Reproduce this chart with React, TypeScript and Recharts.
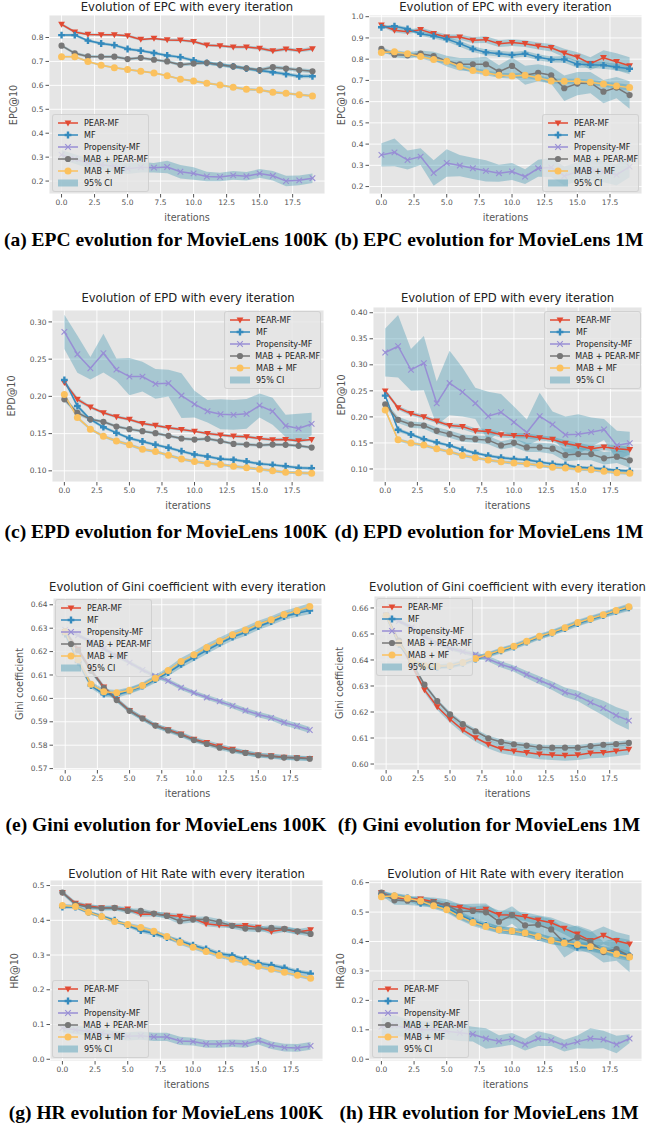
import React from "react";
import { Area, CartesianGrid, ComposedChart, Line, XAxis, YAxis } from "recharts";

const FONT = "'DejaVu Sans', sans-serif";
const CAPTION_FONT = "'Liberation Serif', serif";

const ITERATIONS = [0, 1, 2, 3, 4, 5, 6, 7, 8, 9, 10, 11, 12, 13, 14, 15, 16, 17, 18, 19];
const X_TICKS = [0, 2.5, 5, 7.5, 10, 12.5, 15, 17.5];

const SERIES_NAMES = ["PEAR-MF", "MF", "Propensity-MF", "MAB + PEAR-MF", "MAB + MF"];
const SERIES_COLORS = ["#E24A33", "#348ABD", "#988ED5", "#777777", "#FBC15E"];
const SERIES_MARKERS = ["tri", "plus", "x", "circle", "bigCircle"];
const CI_FILL = "#4a9bb5";

// (a) EPC, MovieLens 100K
const epc100kPear = [0.855, 0.823, 0.813, 0.811, 0.811, 0.807, 0.792, 0.796, 0.790, 0.789, 0.783, 0.768, 0.765, 0.760, 0.760, 0.755, 0.744, 0.752, 0.745, 0.753];
const epc100kMf = [0.810, 0.810, 0.787, 0.775, 0.768, 0.752, 0.745, 0.735, 0.725, 0.718, 0.704, 0.694, 0.686, 0.679, 0.670, 0.662, 0.655, 0.647, 0.638, 0.638];
const epc100kProp = [0.310, 0.292, 0.275, 0.268, 0.262, 0.252, 0.258, 0.256, 0.259, 0.239, 0.232, 0.219, 0.217, 0.224, 0.220, 0.232, 0.222, 0.200, 0.203, 0.212];
const epc100kMabPear = [0.766, 0.734, 0.721, 0.720, 0.720, 0.710, 0.715, 0.707, 0.700, 0.686, 0.691, 0.694, 0.686, 0.679, 0.671, 0.664, 0.676, 0.670, 0.664, 0.659];
const epc100kMabMf = [0.720, 0.720, 0.700, 0.684, 0.674, 0.666, 0.659, 0.652, 0.640, 0.626, 0.618, 0.609, 0.601, 0.592, 0.584, 0.581, 0.571, 0.567, 0.561, 0.556];
const epc100kPearCi = [0.006, 0.006, 0.005, 0.005, 0.005, 0.006, 0.006, 0.005, 0.006, 0.006, 0.006, 0.006, 0.006, 0.006, 0.006, 0.007, 0.007, 0.007, 0.007, 0.008];
const epc100kMfCi = [0.005, 0.006, 0.006, 0.006, 0.006, 0.006, 0.006, 0.006, 0.006, 0.006, 0.007, 0.007, 0.007, 0.007, 0.007, 0.007, 0.007, 0.008, 0.008, 0.008];
const epc100kPropCi = [0.020, 0.020, 0.020, 0.020, 0.022, 0.022, 0.022, 0.020, 0.026, 0.028, 0.026, 0.020, 0.018, 0.018, 0.018, 0.018, 0.020, 0.022, 0.020, 0.020];
const epc100kMabPearCi = [0.006, 0.006, 0.006, 0.006, 0.006, 0.006, 0.006, 0.006, 0.006, 0.007, 0.007, 0.007, 0.007, 0.007, 0.007, 0.007, 0.008, 0.008, 0.008, 0.008];
const epc100kMabMfCi = [0.004, 0.004, 0.004, 0.004, 0.004, 0.004, 0.004, 0.004, 0.004, 0.004, 0.005, 0.005, 0.005, 0.005, 0.005, 0.005, 0.005, 0.005, 0.005, 0.005];

// (b) EPC, MovieLens 1M
const epc1mPear = [0.961, 0.936, 0.929, 0.939, 0.920, 0.904, 0.904, 0.889, 0.892, 0.873, 0.878, 0.873, 0.862, 0.854, 0.829, 0.810, 0.779, 0.807, 0.788, 0.769];
const epc1mMf = [0.950, 0.955, 0.942, 0.920, 0.909, 0.895, 0.873, 0.848, 0.832, 0.826, 0.820, 0.826, 0.809, 0.798, 0.799, 0.776, 0.774, 0.771, 0.763, 0.755];
const epc1mProp = [0.349, 0.361, 0.325, 0.341, 0.264, 0.311, 0.299, 0.286, 0.274, 0.263, 0.271, 0.247, 0.286, 0.290, 0.250, 0.270, 0.280, 0.270, 0.255, 0.294];
const epc1mMabPear = [0.848, 0.821, 0.818, 0.826, 0.815, 0.791, 0.776, 0.776, 0.776, 0.741, 0.768, 0.724, 0.736, 0.724, 0.663, 0.685, 0.689, 0.647, 0.666, 0.631];
const epc1mMabMf = [0.831, 0.835, 0.826, 0.813, 0.798, 0.790, 0.766, 0.747, 0.736, 0.724, 0.721, 0.724, 0.713, 0.697, 0.696, 0.696, 0.691, 0.683, 0.674, 0.666];
const epc1mPearCi = [0.008, 0.010, 0.010, 0.010, 0.012, 0.012, 0.012, 0.014, 0.016, 0.016, 0.016, 0.016, 0.016, 0.018, 0.020, 0.022, 0.030, 0.035, 0.040, 0.040];
const epc1mMfCi = [0.006, 0.008, 0.008, 0.010, 0.012, 0.012, 0.014, 0.014, 0.014, 0.014, 0.014, 0.014, 0.014, 0.014, 0.016, 0.016, 0.016, 0.016, 0.016, 0.018];
const epc1mPropCi = [0.055, 0.065, 0.045, 0.040, 0.060, 0.065, 0.050, 0.050, 0.050, 0.040, 0.040, 0.035, 0.040, 0.045, 0.045, 0.045, 0.050, 0.050, 0.050, 0.050];
const epc1mMabPearCi = [0.010, 0.012, 0.015, 0.015, 0.020, 0.025, 0.030, 0.030, 0.035, 0.030, 0.040, 0.045, 0.040, 0.040, 0.060, 0.055, 0.050, 0.055, 0.050, 0.065];
const epc1mMabMfCi = [0.008, 0.008, 0.008, 0.010, 0.010, 0.010, 0.012, 0.012, 0.012, 0.012, 0.012, 0.012, 0.012, 0.012, 0.012, 0.012, 0.012, 0.012, 0.014, 0.014];

// (c) EPD, MovieLens 100K
const epd100kPear = [0.2186, 0.196, 0.1855, 0.178, 0.1725, 0.169, 0.1635, 0.161, 0.158, 0.1555, 0.153, 0.150, 0.148, 0.1465, 0.1457, 0.1434, 0.1416, 0.142, 0.1403, 0.142];
const epd100kMf = [0.222, 0.187, 0.169, 0.1586, 0.151, 0.1438, 0.1394, 0.135, 0.131, 0.1264, 0.122, 0.1192, 0.116, 0.1148, 0.1125, 0.1094, 0.108, 0.1063, 0.104, 0.1036];
const epd100kProp = [0.2866, 0.2566, 0.2378, 0.258, 0.236, 0.2266, 0.2266, 0.2168, 0.2177, 0.2011, 0.1895, 0.180, 0.176, 0.1752, 0.1765, 0.1877, 0.180, 0.1604, 0.1568, 0.163];
const epd100kMabPear = [0.196, 0.178, 0.1693, 0.1658, 0.1595, 0.156, 0.1532, 0.1506, 0.147, 0.1434, 0.142, 0.143, 0.140, 0.1362, 0.1353, 0.1344, 0.1353, 0.1349, 0.1336, 0.1313];
const epd100kMabMf = [0.2025, 0.1716, 0.156, 0.1465, 0.140, 0.135, 0.129, 0.126, 0.121, 0.116, 0.1125, 0.110, 0.1085, 0.1063, 0.104, 0.1022, 0.100, 0.0982, 0.0973, 0.0969];
const epd100kPearCi = [0.003, 0.003, 0.002, 0.002, 0.002, 0.002, 0.002, 0.002, 0.002, 0.002, 0.002, 0.002, 0.002, 0.002, 0.002, 0.002, 0.002, 0.002, 0.002, 0.002];
const epd100kMfCi = [0.003, 0.003, 0.002, 0.002, 0.002, 0.002, 0.002, 0.002, 0.002, 0.002, 0.002, 0.002, 0.002, 0.002, 0.002, 0.002, 0.002, 0.002, 0.002, 0.002];
const epd100kPropCi = [0.023, 0.025, 0.015, 0.026, 0.015, 0.025, 0.020, 0.020, 0.018, 0.030, 0.018, 0.015, 0.020, 0.020, 0.020, 0.016, 0.018, 0.015, 0.020, 0.015];
const epd100kMabPearCi = [0.003, 0.003, 0.002, 0.002, 0.002, 0.002, 0.002, 0.002, 0.002, 0.002, 0.002, 0.002, 0.002, 0.002, 0.002, 0.002, 0.002, 0.002, 0.002, 0.002];
const epd100kMabMfCi = [0.003, 0.002, 0.002, 0.002, 0.002, 0.002, 0.002, 0.002, 0.002, 0.002, 0.002, 0.002, 0.002, 0.002, 0.002, 0.002, 0.002, 0.002, 0.002, 0.002];

// (d) EPD, MovieLens 1M
const epd1mPear = [0.2497, 0.2175, 0.2064, 0.200, 0.1917, 0.1834, 0.1815, 0.1732, 0.172, 0.1656, 0.1643, 0.1637, 0.160, 0.1567, 0.149, 0.1446, 0.1389, 0.142, 0.1389, 0.137];
const epd1mMf = [0.2408, 0.1752, 0.1662, 0.1573, 0.151, 0.1452, 0.137, 0.1306, 0.1255, 0.1217, 0.1191, 0.1178, 0.1134, 0.1096, 0.1076, 0.1032, 0.1019, 0.100, 0.0975, 0.0962];
const epd1mProp = [0.3236, 0.3357, 0.2904, 0.3032, 0.2261, 0.265, 0.2478, 0.2261, 0.2013, 0.2089, 0.1898, 0.170, 0.2013, 0.1854, 0.1656, 0.1669, 0.1707, 0.1758, 0.1452, 0.1497];
const epd1mMabPear = [0.2242, 0.1943, 0.1854, 0.1834, 0.1732, 0.1669, 0.1592, 0.1573, 0.1554, 0.1452, 0.1503, 0.1414, 0.1414, 0.1389, 0.1267, 0.1287, 0.1287, 0.1204, 0.1236, 0.1166];
const epd1mMabMf = [0.2134, 0.156, 0.1497, 0.1459, 0.1389, 0.1331, 0.1261, 0.1217, 0.1172, 0.114, 0.1115, 0.1102, 0.107, 0.1032, 0.1019, 0.0994, 0.0987, 0.0955, 0.093, 0.0917];
const epd1mPearCi = [0.004, 0.004, 0.004, 0.004, 0.004, 0.004, 0.005, 0.005, 0.005, 0.005, 0.005, 0.005, 0.005, 0.005, 0.006, 0.006, 0.006, 0.006, 0.006, 0.006];
const epd1mMfCi = [0.004, 0.004, 0.003, 0.003, 0.003, 0.003, 0.003, 0.003, 0.003, 0.003, 0.003, 0.003, 0.003, 0.003, 0.003, 0.003, 0.003, 0.003, 0.003, 0.003];
const epd1mPropCi = [0.046, 0.060, 0.040, 0.052, 0.042, 0.062, 0.047, 0.030, 0.047, 0.035, 0.030, 0.025, 0.045, 0.025, 0.035, 0.038, 0.028, 0.020, 0.028, 0.022];
const epd1mMabPearCi = [0.005, 0.006, 0.006, 0.006, 0.007, 0.007, 0.007, 0.007, 0.008, 0.008, 0.008, 0.009, 0.009, 0.010, 0.012, 0.012, 0.012, 0.012, 0.012, 0.014];
const epd1mMabMfCi = [0.004, 0.003, 0.003, 0.003, 0.003, 0.003, 0.003, 0.003, 0.003, 0.003, 0.003, 0.003, 0.003, 0.003, 0.003, 0.003, 0.003, 0.003, 0.003, 0.003];

// (e) Gini, MovieLens 100K
const gini100kPear = [0.6285, 0.621, 0.6122, 0.6048, 0.5995, 0.5948, 0.5915, 0.5884, 0.5866, 0.5847, 0.5825, 0.5811, 0.5796, 0.5782, 0.5768, 0.5758, 0.5754, 0.5748, 0.5746, 0.5743];
const gini100kMf = [0.6275, 0.6155, 0.6055, 0.6018, 0.6015, 0.6032, 0.6052, 0.608, 0.611, 0.6145, 0.6175, 0.6205, 0.6235, 0.6262, 0.6282, 0.6307, 0.6328, 0.635, 0.6364, 0.6375];
const gini100kProp = [0.6293, 0.627, 0.6242, 0.6212, 0.6182, 0.6153, 0.6122, 0.6095, 0.6075, 0.6046, 0.6024, 0.6004, 0.5987, 0.5968, 0.5948, 0.5931, 0.5917, 0.5897, 0.5882, 0.5865];
const gini100kMabPear = [0.6285, 0.6205, 0.6118, 0.6045, 0.5993, 0.5947, 0.5914, 0.5884, 0.5863, 0.5844, 0.5822, 0.5805, 0.5789, 0.5777, 0.5767, 0.5757, 0.5752, 0.5747, 0.5745, 0.5742];
const gini100kMabMf = [0.6285, 0.6165, 0.606, 0.6028, 0.6024, 0.6035, 0.6055, 0.6086, 0.6119, 0.6158, 0.6186, 0.6218, 0.6245, 0.6272, 0.6292, 0.6317, 0.6336, 0.6359, 0.6374, 0.6393];
const gini100kPearCi = [0.0010, 0.0010, 0.0010, 0.0010, 0.0010, 0.0010, 0.0010, 0.0010, 0.0010, 0.0010, 0.0010, 0.0010, 0.0010, 0.0010, 0.0010, 0.0010, 0.0010, 0.0010, 0.0010, 0.0010];
const gini100kMfCi = [0.0012, 0.0012, 0.0012, 0.0012, 0.0012, 0.0013, 0.0013, 0.0014, 0.0014, 0.0015, 0.0015, 0.0015, 0.0015, 0.0015, 0.0015, 0.0015, 0.0015, 0.0015, 0.0015, 0.0015];
const gini100kPropCi = [0.0008, 0.0008, 0.0008, 0.0008, 0.0008, 0.0008, 0.0009, 0.0009, 0.0009, 0.0010, 0.0010, 0.0010, 0.0010, 0.0011, 0.0011, 0.0012, 0.0012, 0.0013, 0.0013, 0.0013];
const gini100kMabPearCi = [0.0010, 0.0010, 0.0010, 0.0010, 0.0010, 0.0010, 0.0010, 0.0010, 0.0010, 0.0010, 0.0010, 0.0010, 0.0010, 0.0010, 0.0010, 0.0010, 0.0010, 0.0010, 0.0010, 0.0010];
const gini100kMabMfCi = [0.0012, 0.0012, 0.0012, 0.0012, 0.0012, 0.0013, 0.0013, 0.0014, 0.0014, 0.0015, 0.0015, 0.0015, 0.0015, 0.0015, 0.0015, 0.0015, 0.0015, 0.0015, 0.0015, 0.0015];

// (f) Gini, MovieLens 1M
const gini1mPear = [0.657, 0.647, 0.638, 0.6285, 0.622, 0.6172, 0.6131, 0.6101, 0.6076, 0.6058, 0.605, 0.6044, 0.6038, 0.6035, 0.6033, 0.6035, 0.6042, 0.6044, 0.605, 0.6056];
const gini1mMf = [0.6568, 0.646, 0.6395, 0.6372, 0.6372, 0.6375, 0.6387, 0.6403, 0.6419, 0.6435, 0.645, 0.6469, 0.6488, 0.6503, 0.6521, 0.654, 0.6556, 0.6571, 0.6587, 0.66];
const gini1mProp = [0.6572, 0.655, 0.6525, 0.649, 0.6465, 0.6445, 0.6432, 0.642, 0.6404, 0.6383, 0.6367, 0.6344, 0.6322, 0.6301, 0.6276, 0.6262, 0.6237, 0.6215, 0.6187, 0.6167];
const gini1mMabPear = [0.6572, 0.6475, 0.639, 0.6305, 0.6242, 0.6191, 0.6153, 0.6126, 0.6099, 0.6085, 0.6076, 0.6071, 0.6064, 0.6063, 0.6063, 0.6063, 0.6069, 0.6074, 0.6077, 0.6081];
const gini1mMabMf = [0.657, 0.6465, 0.64, 0.6378, 0.6376, 0.6378, 0.639, 0.6406, 0.6422, 0.6438, 0.6453, 0.6472, 0.6491, 0.6506, 0.6524, 0.6544, 0.6559, 0.6574, 0.659, 0.6605];
const gini1mPearCi = [0.0006, 0.0008, 0.0010, 0.0011, 0.0012, 0.0013, 0.0014, 0.0015, 0.0016, 0.0017, 0.0018, 0.0019, 0.0020, 0.0020, 0.0020, 0.0020, 0.0020, 0.0020, 0.0020, 0.0020];
const gini1mMfCi = [0.0008, 0.0008, 0.0008, 0.0008, 0.0008, 0.0008, 0.0009, 0.0009, 0.0009, 0.0010, 0.0010, 0.0010, 0.0010, 0.0010, 0.0011, 0.0011, 0.0011, 0.0011, 0.0012, 0.0012];
const gini1mPropCi = [0.0008, 0.0008, 0.0008, 0.0008, 0.0008, 0.0008, 0.0008, 0.0010, 0.0010, 0.0012, 0.0012, 0.0014, 0.0015, 0.0016, 0.0018, 0.0020, 0.0024, 0.0028, 0.0032, 0.0035];
const gini1mMabPearCi = [0.0006, 0.0007, 0.0008, 0.0008, 0.0008, 0.0009, 0.0009, 0.0010, 0.0010, 0.0010, 0.0010, 0.0010, 0.0010, 0.0010, 0.0010, 0.0010, 0.0010, 0.0010, 0.0010, 0.0010];
const gini1mMabMfCi = [0.0008, 0.0008, 0.0008, 0.0008, 0.0008, 0.0008, 0.0009, 0.0009, 0.0009, 0.0010, 0.0010, 0.0010, 0.0010, 0.0010, 0.0011, 0.0011, 0.0011, 0.0011, 0.0012, 0.0012];

// (g) Hit rate, MovieLens 100K
const hr100kPear = [0.480, 0.449, 0.441, 0.436, 0.435, 0.432, 0.4175, 0.418, 0.4146, 0.4117, 0.406, 0.390, 0.386, 0.384, 0.385, 0.380, 0.3676, 0.374, 0.3666, 0.3724];
const hr100kMf = [0.438, 0.438, 0.4232, 0.4117, 0.4002, 0.3848, 0.3704, 0.3618, 0.350, 0.3407, 0.3282, 0.3177, 0.3042, 0.2985, 0.2879, 0.2764, 0.2706, 0.263, 0.2524, 0.2466];
const hr100kProp = [0.090, 0.085, 0.080, 0.075, 0.070, 0.066, 0.068, 0.0643, 0.0643, 0.0528, 0.0509, 0.0441, 0.0441, 0.046, 0.0441, 0.0537, 0.0403, 0.0336, 0.0326, 0.0384];
const hr100kMabPear = [0.480, 0.446, 0.4376, 0.4347, 0.4357, 0.427, 0.427, 0.4194, 0.4127, 0.3973, 0.402, 0.403, 0.3954, 0.384, 0.3762, 0.3743, 0.378, 0.3752, 0.3685, 0.3608];
const hr100kMabMf = [0.4424, 0.4395, 0.4232, 0.4107, 0.3963, 0.3877, 0.3791, 0.3685, 0.3532, 0.3359, 0.3225, 0.310, 0.2985, 0.2879, 0.2793, 0.2678, 0.2591, 0.2505, 0.2418, 0.2332];
const hr100kPearCi = [0.006, 0.006, 0.006, 0.006, 0.006, 0.006, 0.007, 0.007, 0.007, 0.007, 0.007, 0.007, 0.007, 0.007, 0.007, 0.007, 0.008, 0.008, 0.008, 0.008];
const hr100kMfCi = [0.005, 0.005, 0.005, 0.005, 0.005, 0.005, 0.006, 0.006, 0.006, 0.006, 0.006, 0.006, 0.006, 0.006, 0.006, 0.006, 0.006, 0.006, 0.006, 0.006];
const hr100kPropCi = [0.012, 0.012, 0.012, 0.012, 0.012, 0.012, 0.012, 0.012, 0.012, 0.012, 0.011, 0.011, 0.011, 0.011, 0.011, 0.011, 0.011, 0.011, 0.011, 0.011];
const hr100kMabPearCi = [0.006, 0.007, 0.007, 0.007, 0.007, 0.007, 0.007, 0.007, 0.008, 0.008, 0.008, 0.008, 0.008, 0.008, 0.008, 0.008, 0.008, 0.008, 0.008, 0.008];
const hr100kMabMfCi = [0.005, 0.005, 0.005, 0.005, 0.005, 0.005, 0.006, 0.006, 0.006, 0.006, 0.006, 0.006, 0.006, 0.006, 0.006, 0.006, 0.006, 0.006, 0.006, 0.006];

// (h) Hit rate, MovieLens 1M
const hr1mPear = [0.566, 0.550, 0.5433, 0.5444, 0.5354, 0.5217, 0.5161, 0.507, 0.5093, 0.4911, 0.490, 0.4843, 0.473, 0.4639, 0.4446, 0.4253, 0.4027, 0.4208, 0.4027, 0.3913];
const hr1mMf = [0.560, 0.555, 0.548, 0.530, 0.525, 0.515, 0.490, 0.470, 0.455, 0.440, 0.435, 0.428, 0.415, 0.403, 0.400, 0.380, 0.380, 0.370, 0.365, 0.352];
const hr1mProp = [0.110, 0.115, 0.105, 0.100, 0.100, 0.095, 0.090, 0.0851, 0.0703, 0.0613, 0.0692, 0.050, 0.0703, 0.0647, 0.0465, 0.059, 0.0703, 0.0669, 0.050, 0.0703];
const hr1mMabPear = [0.566, 0.540, 0.5388, 0.5354, 0.5342, 0.524, 0.5013, 0.5036, 0.4991, 0.4673, 0.490, 0.4548, 0.4571, 0.4412, 0.3958, 0.414, 0.3993, 0.3641, 0.3743, 0.3505];
const hr1mMabMf = [0.5524, 0.5558, 0.5467, 0.5376, 0.5217, 0.5081, 0.4854, 0.465, 0.4514, 0.4401, 0.4355, 0.4287, 0.4174, 0.4038, 0.3947, 0.3902, 0.3822, 0.3698, 0.3573, 0.3471];
const hr1mPearCi = [0.008, 0.010, 0.010, 0.010, 0.010, 0.012, 0.012, 0.012, 0.014, 0.014, 0.014, 0.015, 0.016, 0.018, 0.020, 0.025, 0.030, 0.030, 0.030, 0.030];
const hr1mMfCi = [0.008, 0.010, 0.010, 0.010, 0.010, 0.012, 0.014, 0.012, 0.012, 0.012, 0.012, 0.012, 0.012, 0.012, 0.014, 0.014, 0.014, 0.014, 0.015, 0.015];
const hr1mPropCi = [0.030, 0.035, 0.030, 0.030, 0.028, 0.028, 0.028, 0.025, 0.035, 0.020, 0.020, 0.020, 0.025, 0.020, 0.020, 0.022, 0.035, 0.030, 0.030, 0.015];
const hr1mMabPearCi = [0.010, 0.015, 0.015, 0.015, 0.015, 0.020, 0.025, 0.025, 0.030, 0.030, 0.030, 0.030, 0.030, 0.035, 0.050, 0.040, 0.040, 0.035, 0.040, 0.055];
const hr1mMabMfCi = [0.008, 0.008, 0.008, 0.008, 0.010, 0.010, 0.012, 0.012, 0.012, 0.012, 0.012, 0.012, 0.012, 0.012, 0.012, 0.012, 0.012, 0.012, 0.014, 0.014];

const EPC100K_TICKS = [0.2, 0.3, 0.4, 0.5, 0.6, 0.7, 0.8];
const EPC1M_TICKS = [0.2, 0.3, 0.4, 0.5, 0.6, 0.7, 0.8, 0.9, 1.0];
const EPD100K_TICKS = [0.1, 0.15, 0.2, 0.25, 0.3];
const EPD1M_TICKS = [0.1, 0.15, 0.2, 0.25, 0.3, 0.35, 0.4];
const GINI100K_TICKS = [0.57, 0.58, 0.59, 0.6, 0.61, 0.62, 0.63, 0.64];
const GINI1M_TICKS = [0.6, 0.61, 0.62, 0.63, 0.64, 0.65, 0.66];
const HR100K_TICKS = [0, 0.1, 0.2, 0.3, 0.4, 0.5];
const HR1M_TICKS = [0, 0.1, 0.2, 0.3, 0.4, 0.5, 0.6];

type Rect = { l: number; t: number; r: number; b: number };
type PanelSpec = {
  title: string;
  yLabel: string;
  caption: string;
  values: number[][];
  ci: number[][];
  domain: [number, number];
  yTicks: number[];
  digits: number;
  col: number;
  plot: Rect;
  titleY: number;
  yLabelX: number;
  legend: { x: number; y: number };
  captionY: number;
};

const PANELS: PanelSpec[] = [
  {
    title: "Evolution of EPC with every iteration", yLabel: "EPC@10", caption: "(a) EPC evolution for MovieLens 100K",
    values: [epc100kPear, epc100kMf, epc100kProp, epc100kMabPear, epc100kMabMf],
    ci: [epc100kPearCi, epc100kMfCi, epc100kPropCi, epc100kMabPearCi, epc100kMabMfCi],
    domain: [0.146, 0.894], yTicks: EPC100K_TICKS, digits: 1,
    col: 0, plot: { l: 49, t: 15, r: 325, b: 194 }, titleY: 7, yLabelX: 13, legend: { x: 52, y: 114 }, captionY: 240,
  },
  {
    title: "Evolution of EPC with every iteration", yLabel: "EPC@10", caption: "(b) EPC evolution for MovieLens 1M",
    values: [epc1mPear, epc1mMf, epc1mProp, epc1mMabPear, epc1mMabMf],
    ci: [epc1mPearCi, epc1mMfCi, epc1mPropCi, epc1mMabPearCi, epc1mMabMfCi],
    domain: [0.165, 1.008], yTicks: EPC1M_TICKS, digits: 1,
    col: 1, plot: { l: 369, t: 15, r: 642, b: 194 }, titleY: 6.5, yLabelX: 340.5, legend: { x: 542, y: 114 }, captionY: 240,
  },
  {
    title: "Evolution of EPD with every iteration", yLabel: "EPD@10", caption: "(c) EPD evolution for MovieLens 100K",
    values: [epd100kPear, epd100kMf, epd100kProp, epd100kMabPear, epd100kMabMf],
    ci: [epd100kPearCi, epd100kMfCi, epd100kPropCi, epd100kMabPearCi, epd100kMabMfCi],
    domain: [0.085, 0.316], yTicks: EPD100K_TICKS, digits: 2,
    col: 0, plot: { l: 52, t: 310, r: 324, b: 482 }, titleY: 298, yLabelX: 11, legend: { x: 224, y: 311 }, captionY: 532,
  },
  {
    title: "Evolution of EPD with every iteration", yLabel: "EPD@10", caption: "(d) EPD evolution for MovieLens 1M",
    values: [epd1mPear, epd1mMf, epd1mProp, epd1mMabPear, epd1mMabMf],
    ci: [epd1mPearCi, epd1mMfCi, epd1mPropCi, epd1mMabPearCi, epd1mMabMfCi],
    domain: [0.075, 0.411], yTicks: EPD1M_TICKS, digits: 2,
    col: 1, plot: { l: 373, t: 307, r: 642, b: 482 }, titleY: 298, yLabelX: 341, legend: { x: 544, y: 311 }, captionY: 532,
  },
  {
    title: "Evolution of Gini coefficient with every iteration", yLabel: "Gini coefficient", caption: "(e) Gini evolution for MovieLens 100K",
    values: [gini100kPear, gini100kMf, gini100kProp, gini100kMabPear, gini100kMabMf],
    ci: [gini100kPearCi, gini100kMfCi, gini100kPropCi, gini100kMabPearCi, gini100kMabMfCi],
    domain: [0.5694, 0.6429], yTicks: GINI100K_TICKS, digits: 2,
    col: 0, plot: { l: 53, t: 598, r: 322, b: 770 }, titleY: 586.5, yLabelX: 19, legend: { x: 55, y: 599 }, captionY: 825,
  },
  {
    title: "Evolution of Gini coefficient with every iteration", yLabel: "Gini coefficient", caption: "(f) Gini evolution for MovieLens 1M",
    values: [gini1mPear, gini1mMf, gini1mProp, gini1mMabPear, gini1mMabMf],
    ci: [gini1mPearCi, gini1mMfCi, gini1mPropCi, gini1mMabPearCi, gini1mMabMfCi],
    domain: [0.5977, 0.6646], yTicks: GINI1M_TICKS, digits: 2,
    col: 1, plot: { l: 374, t: 596, r: 641, b: 770 }, titleY: 586.5, yLabelX: 339, legend: { x: 376, y: 598 }, captionY: 825,
  },
  {
    title: "Evolution of Hit Rate with every iteration", yLabel: "HR@10", caption: "(g) HR evolution for MovieLens 100K",
    values: [hr100kPear, hr100kMf, hr100kProp, hr100kMabPear, hr100kMabMf],
    ci: [hr100kPearCi, hr100kMfCi, hr100kPropCi, hr100kMabPearCi, hr100kMabMfCi],
    domain: [-0.005, 0.516], yTicks: HR100K_TICKS, digits: 1,
    col: 0, plot: { l: 50, t: 880, r: 323, b: 1061 }, titleY: 873.5, yLabelX: 14, legend: { x: 52, y: 980 }, captionY: 1113,
  },
  {
    title: "Evolution of Hit Rate with every iteration", yLabel: "HR@10", caption: "(h) HR evolution for MovieLens 1M",
    values: [hr1mPear, hr1mMf, hr1mProp, hr1mMabPear, hr1mMabMf],
    ci: [hr1mPearCi, hr1mMfCi, hr1mPropCi, hr1mMabPearCi, hr1mMabMfCi],
    domain: [-0.006, 0.609], yTicks: HR1M_TICKS, digits: 1,
    col: 1, plot: { l: 369, t: 880, r: 642, b: 1061 }, titleY: 873.5, yLabelX: 340, legend: { x: 372, y: 980 }, captionY: 1113,
  },
];

function marker(kind: string, color: string, cx: number, cy: number, key?: string) {
  switch (kind) {
    case "tri":
      return <path key={key} d={`M${cx - 3.4},${cy - 2.6}L${cx + 3.4},${cy - 2.6}L${cx},${cy + 3.4}Z`} fill={color} />;
    case "plus": {
      const a = 3.4;
      const w = 1.2;
      return (
        <path
          key={key}
          d={`M${cx - w},${cy - a}H${cx + w}V${cy - w}H${cx + a}V${cy + w}H${cx + w}V${cy + a}H${cx - w}V${cy + w}H${cx - a}V${cy - w}H${cx - w}Z`}
          fill={color}
        />
      );
    }
    case "x":
      return (
        <path
          key={key}
          d={`M${cx - 2.8},${cy - 2.8}L${cx + 2.8},${cy + 2.8}M${cx - 2.8},${cy + 2.8}L${cx + 2.8},${cy - 2.8}`}
          stroke={color}
          strokeWidth={1.1}
          fill="none"
        />
      );
    case "circle":
      return <circle key={key} cx={cx} cy={cy} r={3.1} fill={color} />;
    default:
      return <circle key={key} cx={cx} cy={cy} r={3.5} fill={color} />;
  }
}

const makeDot = (k: number) => (props: any) => {
  const { cx, cy, index } = props;
  if (cx == null || cy == null) return <g key={`d${k}-${index}`} />;
  return marker(SERIES_MARKERS[k], SERIES_COLORS[k], cx, cy, `d${k}-${index}`);
};

function LegendBox({ x, y }: { x: number; y: number }) {
  return (
    <div
      style={{
        position: "absolute",
        left: x,
        top: y,
        width: 97,
        padding: "2px 0 2px 4px",
        boxSizing: "border-box",
        background: "rgba(229,229,229,0.8)",
        border: "1px solid rgba(204,204,204,0.8)",
        borderRadius: 3,
        fontFamily: FONT,
        fontSize: 8,
        color: "#222",
      }}
    >
      {SERIES_NAMES.map((name, k) => (
        <div key={name} style={{ height: 12, display: "flex", alignItems: "center" }}>
          <svg width={22} height={10} style={{ marginRight: 5 }}>
            <line x1={1} y1={5} x2={21} y2={5} stroke={SERIES_COLORS[k]} strokeWidth={1.5} />
            {marker(SERIES_MARKERS[k], SERIES_COLORS[k], 11, 5)}
          </svg>
          <span style={{ whiteSpace: "nowrap" }}>{name}</span>
        </div>
      ))}
      <div style={{ height: 12, display: "flex", alignItems: "center" }}>
        <svg width={22} height={10} style={{ marginRight: 5 }}>
          <rect x={1} y={1.5} width={20} height={7} fill={CI_FILL} fillOpacity={0.45} />
        </svg>
        <span>95% CI</span>
      </div>
    </div>
  );
}

// room above the plot so the top tick label and markers are not clipped
const TOP_PAD = 10;

function Panel({ p }: { p: PanelSpec }) {
  const colLeft = p.col === 0 ? 0 : 334;
  const yAxisWidth = p.plot.l - colLeft;
  const plotH = p.plot.b - p.plot.t;
  const height = plotH + 32 + TOP_PAD;
  const data = ITERATIONS.map((it, i) => {
    const row: Record<string, any> = { it };
    p.values.forEach((vals, k) => {
      row[`v${k}`] = vals[i];
      row[`b${k}`] = [vals[i] - p.ci[k][i], vals[i] + p.ci[k][i]];
    });
    return row;
  });
  const tickStyle = { fontSize: 7.5, fill: "#555", fontFamily: FONT };
  const plotCx = (p.plot.l + p.plot.r) / 2;

  return (
    <>
      <div
        style={{
          position: "absolute",
          left: plotCx,
          top: p.titleY,
          transform: "translate(-50%, -50%)",
          whiteSpace: "nowrap",
          fontFamily: FONT,
          fontSize: 11.6,
          color: "#222",
        }}
      >
        {p.title}
      </div>
      <div style={{ position: "absolute", left: colLeft, top: p.plot.t - TOP_PAD }}>
        <ComposedChart
          width={333}
          height={height}
          data={data}
          margin={{ top: TOP_PAD, right: colLeft + 333 - p.plot.r, bottom: 0, left: 0 }}
        >
          <CartesianGrid fill="#E5E5E5" fillOpacity={1} stroke="#ffffff" strokeWidth={0.9} />
          <XAxis
            dataKey="it"
            type="number"
            domain={[-0.95, 19.95]}
            allowDataOverflow
            ticks={X_TICKS}
            interval={0}
            tickFormatter={(v: number) => v.toFixed(1)}
            tick={tickStyle}
            tickLine={{ stroke: "#555" }}
            tickSize={3.5}
            tickMargin={2}
            axisLine={false}
            height={32}
          />
          <YAxis
            type="number"
            domain={p.domain}
            allowDataOverflow
            ticks={p.yTicks}
            interval={0}
            tickFormatter={(v: number) => v.toFixed(p.digits)}
            tick={tickStyle}
            tickLine={{ stroke: "#555" }}
            tickSize={3.5}
            tickMargin={2}
            axisLine={false}
            width={yAxisWidth}
          />
          {p.values.map((_, k) => (
            <Area
              key={`ci${k}`}
              dataKey={`b${k}`}
              type="linear"
              stroke="none"
              fill={CI_FILL}
              fillOpacity={0.4}
              dot={false}
              activeDot={false}
              isAnimationActive={false}
            />
          ))}
          {p.values.map((_, k) => (
            <Line
              key={`ln${k}`}
              dataKey={`v${k}`}
              type="linear"
              stroke={SERIES_COLORS[k]}
              strokeWidth={1.5}
              dot={makeDot(k)}
              activeDot={false}
              isAnimationActive={false}
            />
          ))}
        </ComposedChart>
      </div>
      <div
        style={{
          position: "absolute",
          left: plotCx,
          top: p.plot.b + 22.5,
          transform: "translate(-50%, -50%)",
          fontFamily: FONT,
          fontSize: 9.6,
          color: "#555",
        }}
      >
        iterations
      </div>
      <div
        style={{
          position: "absolute",
          left: p.yLabelX,
          top: (p.plot.t + p.plot.b) / 2,
          transform: "translate(-50%, -50%) rotate(-90deg)",
          whiteSpace: "nowrap",
          fontFamily: FONT,
          fontSize: 9.6,
          color: "#555",
        }}
      >
        {p.yLabel}
      </div>
      <LegendBox x={p.legend.x} y={p.legend.y} />
      <div
        style={{
          position: "absolute",
          left: p.col === 0 ? 166 : 489,
          top: p.captionY,
          transform: "translate(-50%, -50%)",
          whiteSpace: "nowrap",
          fontFamily: CAPTION_FONT,
          fontWeight: "bold",
          fontSize: 19.5,
          color: "#000",
        }}
      >
        {p.caption}
      </div>
    </>
  );
}

export default function App() {
  return (
    <div style={{ position: "absolute", left: 0, top: 0, width: 667, height: 1126, background: "#fff", overflow: "hidden" }}>
      {PANELS.map((p) => (
        <Panel key={p.caption} p={p} />
      ))}
    </div>
  );
}
